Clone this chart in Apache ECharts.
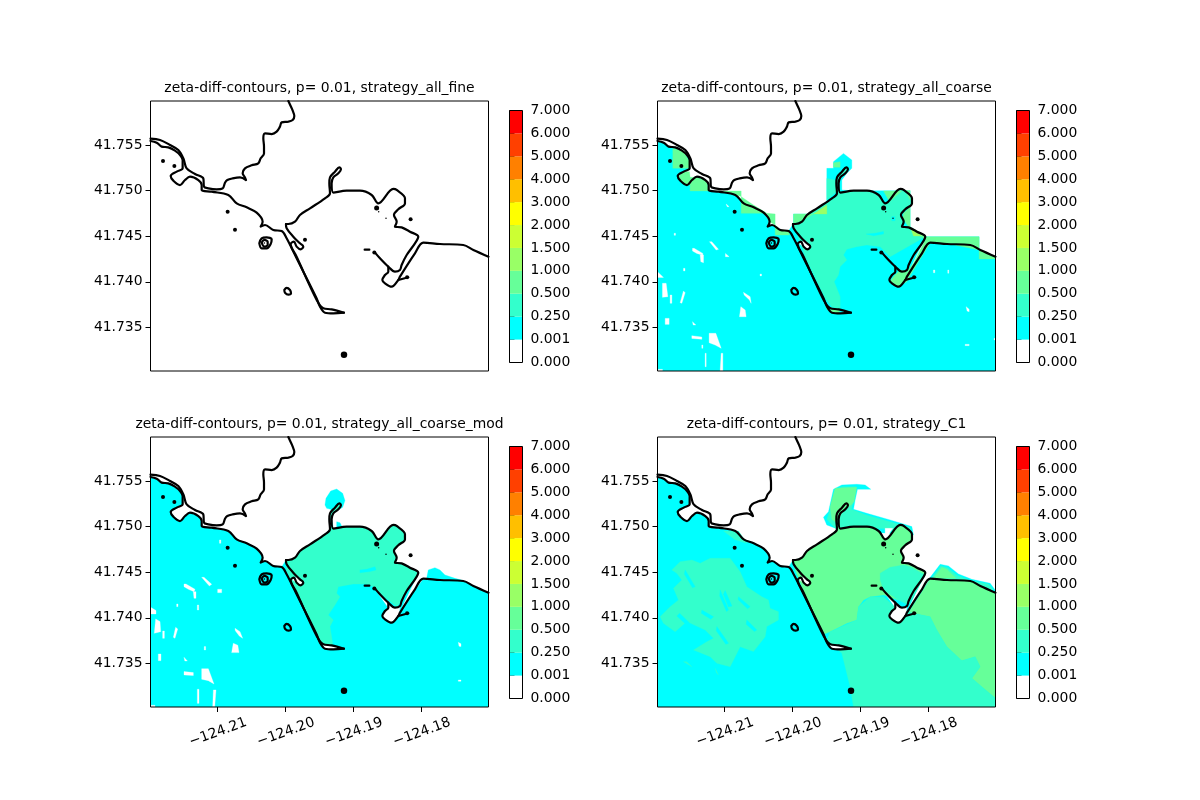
<!DOCTYPE html>
<html>
<head>
<meta charset="utf-8">
<style>html,body{margin:0;background:#fff}#main{width:1200px;height:800px}</style>
<script src="https://cdn.jsdelivr.net/npm/echarts@6/dist/echarts.min.js"></script>
</head>
<body>
<div id="main"></div>
<script>
// map points are [lon, lat] in 1e-5 degrees from (-124.22, 41.73)
var LON0 = -124.22, LAT0 = 41.73;
var lonMin = -124.21985, lonMax = -124.17012, latMin = 41.73023, latMax = 41.75982;
var lonTicks = [-124.21, -124.20, -124.19, -124.18];
var latTicks = [41.735, 41.740, 41.745, 41.750, 41.755];
var titles = ['strategy_all_fine', 'strategy_all_coarse', 'strategy_all_coarse_mod', 'strategy_C1'];
var levelLabels = ['0.000', '0.001', '0.250', '0.500', '1.000', '1.500', '2.000', '3.000', '4.000', '5.000', '6.000', '7.000'];
var bandColors = ['#ffffff', '#00ffff', '#33ffcc', '#66ff99', '#99ff66', '#ccff33', '#ffff00', '#ffbf00', '#ff8000', '#ff4000', '#ff0000'];

// shoreline
var coastNorth = [[2043,2982],[2077,2927],[2107,2876],[2131,2818],[2107,2774],[2043,2755],[1945,2748],[1920,2701],[1871,2646],[1798,2620],[1700,2628],[1675,2573],[1685,2481],[1685,2408],[1636,2354],[1601,2299],[1503,2277],[1405,2244],[1371,2189],[1405,2145],[1420,2116],[1332,2145],[1224,2134],[1145,2116],[1111,2087],[1077,2025],[988,2014],[866,2025],[802,2043],[792,2134],[670,2182],[547,2244],[498,2354],[424,2445],[302,2500],[155,2555],[15,2569]];
var coastWest = [[15,2544],[106,2525],[179,2482],[277,2474],[375,2438],[449,2390],[488,2335],[488,2244],[400,2208],[312,2160],[351,2109],[449,2061],[523,2116],[596,2153],[719,2116],[768,2061],[768,2007],[915,1988],[1160,1952],[1283,1860],[1430,1817],[1577,1758],[1665,1660],[1636,1605],[1700,1623],[1822,1568],[1945,1557]];
var coastStrip = [[2018,1477],[2165,1258],[2460,819],[2509,728],[2582,662],[2705,655],[2862,662]];
var hook = [[2008,1634],[2018,1587],[2116,1495],[2214,1422],[2263,1386],[2224,1356],[2165,1386],[2126,1440],[2077,1415],[2165,1276],[2460,801],[2558,710],[2680,699],[2862,662]];
var bayShore = [[2008,1634],[2043,1634],[2141,1660],[2214,1733],[2362,1806],[2582,1915],[2656,1970],[2646,2080],[2656,2145],[2729,2207],[2793,2255],[2817,2233],[2778,2189],[2705,2145],[2680,2080],[2705,1977],[2901,1999],[3097,1999],[3269,1952],[3367,1860],[3588,2018],[3637,2007],[3759,1915],[3759,1860],[3661,1795],[3597,1733],[3637,1660],[3612,1605],[3710,1597],[3833,1550],[3955,1495]];
var bayEast = [[3906,1422],[3784,1294],[3710,1185],[3685,1130],[3612,1112],[3514,1166],[3391,1258],[3318,1320]];
var coastEast = [[4988,1276],[4765,1349],[4617,1404],[4274,1415],[4029,1429]];
var lagoonSouth = [[3906,1312],[3685,1057],[3661,1020],[3563,947],[3465,984],[3426,1020],[3465,1075],[3514,1112],[3514,1166]];
var spitTail = [[3661,1020],[3808,1050]];
var ringOuter = [[1616,1422],[1650,1477],[1724,1488],[1798,1466],[1783,1415],[1724,1367],[1650,1367],[1616,1422]];
var ringInner = [[1650,1430],[1690,1459],[1739,1440],[1739,1404],[1690,1386],[1650,1430]];
var ringSouth = [[1984,911],[2018,933],[2067,911],[2082,874],[2043,860],[1994,881],[1984,911]];
var bayDash = [[3166,1353],[3235,1353]];
var rocksTiny = [[3480,1696],[3372,1769],[1690,1426]];
var rocksSmall = [[199,2324],[366,2270],[1150,1769],[1258,1572],[2288,1462],[3842,1685],[3308,1323],[3790,1050]];
var rocksMid = [[3342,1809]];
var rocksBig = [[2862,202]];

// areas shared by the filled panels
var oceanBase = [[15,23]].concat(coastWest, bayShore, [[3676,1057]], coastEast.slice().reverse(), [[4988,23]]);
var lagoonWhite = [[3318,1320],[3514,1166],[3612,1112],[3685,1130],[3676,1057],[3661,1020],[3563,947],[3465,984],[3426,1020],[3465,1075],[3514,1112],[3391,1240]];
var hookWhite = [[2092,1422],[2165,1451],[2263,1386],[2224,1356],[2165,1386]];
var tipWhite = [[2533,710],[2680,691],[2862,662],[2582,655]];

// strategy_all_coarse
var coarseNorthBlock = [[2016,1634],[2016,1744],[2506,1744],[2506,2244],[2604,2244],[2604,2317],[2751,2408],[2874,2335],[2874,2244],[2800,2189],[2727,2116],[2727,2007],[2849,1999],[3732,1999],[3732,1605],[3953,1495],[4747,1495],[4747,1350],[4026,1429]];
var coarseBay = bayShore.concat([[3438,1276],[3291,1386],[3095,1404],[2947,1386],[2800,1356],[2751,1294],[2800,1240],[2702,1166],[2678,1075],[2614,1002],[2644,947],[2702,838],[2702,699],[2580,728],[2482,819],[2187,1276],[2089,1477],[2016,1623]]);
var coarseBayNorth = [[2506,1897],[2506,2134],[2629,2116],[2678,2007]];
var coarseHole = [[3085,1524],[3217,1532],[3340,1553],[3340,1524],[3193,1506]];
var coarseRock = [[3462,1714],[3510,1714],[3510,1670],[3462,1670]];
var coarseGreen = [
    [[240,2463],[397,2438],[486,2317],[486,2244],[240,2244]],
    [[324,2153],[397,2208],[486,2208],[495,2145],[594,2145],[741,2109],[765,1996],[495,1996],[495,2061],[397,2080]],
    [[790,1996],[1246,1996],[1246,1751],[1623,1751],[1427,1842],[1231,1941],[937,1988]],
    [[1623,1751],[1746,1744],[1746,1623],[1665,1660]],
    [[1746,1623],[1746,1513],[1957,1513],[1945,1557],[1822,1568]],
    [[2016,1744],[2310,1744],[2162,1678],[2016,1634]],
    [[3634,1751],[3732,1824],[3732,1605],[3953,1495],[4747,1495],[4747,1350],[4321,1415],[4026,1429],[3708,1039],[3683,1002],[3560,947],[3428,1002],[3511,1075],[3585,1130],[3683,1112],[3781,1203],[3953,1459],[3830,1550],[3708,1605],[3624,1696]],
    [[4747,1355],[4988,1276],[4988,1250],[4747,1250]],
    [[3340,1996],[3610,1996],[3428,1879]],
    [[3658,2000],[3732,2000],[3732,1897]],
    [[2604,2306],[2702,2317],[2702,2255],[2604,2255]],
    [[2460,800],[2531,721],[2692,699],[2692,660],[2582,655],[2509,700]]
];
var coarseLime = [
    [[2310,1744],[2506,1744],[2506,1842]],
    [[3742,1586],[3904,1502],[3781,1502]]
];
var coarseSpecks = [[[780,1440],[814,1440],[912,1356],[878,1349]],[[530,1367],[554,1367],[682,1312],[682,1291],[594,1312],[530,1338]],[[643,1294],[692,1294],[692,1210],[652,1221]],[[1015,1312],[1069,1276],[1015,1276]],[[15,1112],[103,1049],[15,1049]],[[88,984],[142,984],[167,838],[88,830]],[[201,856],[226,856],[226,765],[201,765]],[[397,900],[422,881],[373,765],[348,772]],[[1280,885],[1378,838],[1393,765],[1368,801],[1290,856]],[[1241,728],[1305,692],[1319,618],[1221,618]],[[128,600],[186,600],[186,534],[128,534]],[[530,564],[579,527],[540,527]],[[520,410],[667,395],[667,370],[520,380]],[[775,436],[873,436],[952,272],[863,308],[775,333]],[[952,217],[976,217],[976,23],[937,23]],[[667,308],[682,308],[682,272],[667,272]],[[716,217],[731,217],[731,70],[716,70]],[[15,41],[88,41],[88,23],[15,23]],[[4556,728],[4600,700],[4600,673],[4570,680]],[[4541,315],[4600,315],[4600,301],[4541,301]],[[4968,381],[4988,381],[4988,363],[4968,363]],[[1025,1853],[1069,1824],[1040,1824]],[[260,1532],[280,1532],[280,1510],[260,1510]],[[397,1148],[420,1148],[420,1120],[397,1120]],[[1525,1086],[1545,1086],[1545,1065],[1525,1065]],[[4075,1130],[4095,1130],[4095,1100],[4075,1100]],[[4286,1130],[4300,1130],[4300,1095],[4286,1095]]];

// strategy_all_coarse_mod
var modBay = bayShore.concat([[3784,1294],[3710,1185],[3637,1123],[3514,1196],[3391,1269],[3293,1342],[3195,1371],[2999,1371],[2778,1342],[2754,1269],[2803,1232],[2729,1141],[2631,1032],[2705,977],[2656,904],[2695,721],[2680,685],[2533,721],[2460,823],[2165,1269],[2077,1415],[2018,1525]]);
var modHole = [[3097,1525],[3195,1532],[3318,1561],[3333,1525],[3244,1507],[3097,1495]];
var modCyan = [
    [[2582,2237],[2597,2310],[2666,2390],[2754,2412],[2842,2365],[2876,2285],[2842,2211],[2778,2182],[2695,2138],[2666,2190],[2607,2200]],
    [[2754,2054],[2803,2043],[2837,1992],[2754,1992]],
    [[4078,1433],[4102,1525],[4200,1550],[4274,1525],[4348,1470],[4495,1433],[4617,1408],[4274,1415]]
];
var modSpecks = [[[768,1444],[802,1444],[915,1368],[881,1349]],[[508,1371],[537,1371],[670,1313],[655,1287],[572,1313],[508,1342]],[[645,1287],[684,1287],[684,1214],[655,1214]],[[1003,1313],[1062,1313],[1062,1276],[1003,1276]],[[17,1116],[96,1080],[96,1043],[17,1043]],[[91,988],[155,959],[165,849],[71,831]],[[194,856],[219,856],[219,776],[194,776]],[[385,896],[415,878],[375,776],[351,787]],[[1258,885],[1332,849],[1371,776],[1322,800],[1263,860]],[[1233,721],[1300,700],[1317,619],[1209,619]],[[130,604],[169,604],[169,531],[130,531]],[[508,568],[557,527],[520,527]],[[508,411],[645,400],[645,367],[508,375]],[[768,443],[866,443],[949,275],[866,312],[768,327]],[[940,210],[979,210],[960,27],[930,27]],[[704,217],[729,217],[729,63],[704,63]],[[17,42],[81,42],[81,23],[17,23]],[[4544,732],[4583,715],[4583,685],[4554,690]],[[4544,319],[4583,319],[4583,305],[4544,305]],[[1030,1854],[1050,1854],[1050,1817],[1030,1817]],[[400,1152],[420,1152],[420,1123],[400,1123]],[[704,1141],[724,1141],[724,1086],[704,1086]],[[806,685],[826,685],[826,648],[806,648]]];

// strategy_C1
var c1CyanNorth = [
    [[2457,2102],[2531,2164],[2604,2409],[2727,2456],[2947,2464],[3070,2456],[3153,2409],[2957,2409],[2923,2292],[2899,2190],[3095,2146],[3438,2073],[3757,2000],[3781,1908],[2702,1963],[2506,2018]],
    [[4017,1433],[4174,1587],[4296,1569],[4443,1481],[4640,1422],[4909,1379],[4983,1306],[4983,1262]]
];
var c1TealNorth = [
    [[2506,2080],[2555,2182],[2614,2394],[2727,2438],[2938,2438],[2899,2285],[2869,2190],[3095,2124],[3438,2054],[3732,1989],[3757,1908],[3340,1978],[2727,1981],[2629,1981]],
    [[4051,1441],[4183,1569],[4281,1550],[4428,1463],[4615,1408],[4885,1371],[4958,1306]]
];
var c1GreenNorth = [
    [[2555,2219],[2629,2420],[2947,2431],[2908,2274],[2864,2237],[2751,2182],[2678,2080],[2629,2054],[2580,2080]],
    [[4075,1433],[4198,1554],[4272,1532],[4409,1433]]
];
var c1NorthGap = [[3364,1981],[3477,1981],[3364,1861]];
var c1Bay = bayShore.concat([[3560,1196],[3340,1251],[3144,1232],[3046,1196],[2972,1123],[2947,977],[2800,940],[2555,849],[2467,823],[2187,1251],[2089,1433],[2016,1580]]);
var c1BayTeal = [[3291,1488],[3438,1554],[3634,1580],[3732,1561],[3953,1470],[3781,1232],[3708,1141],[3560,1196],[3340,1306],[3291,1415]];
var c1SouthTeal = [[2555,849],[2947,977],[2972,1123],[3144,1232],[3340,1232],[3560,1086],[3708,1068],[3830,1043],[4026,1013],[4124,867],[4272,684],[4492,531],[4689,575],[4762,465],[4640,338],[4811,228],[4983,118],[4983,23],[2899,23],[2849,246],[2727,611],[2506,758]];
var c1EastGreen = coastEast.concat([[3708,1060],[3830,1043],[4026,1013],[4124,867],[4272,684],[4492,531],[4689,575],[4762,465],[4640,338],[4811,228],[4988,118]]);
var c1WestTeal = [
    [[226,1525],[348,1616],[520,1634],[643,1598],[790,1653],[1084,1653],[1231,1506],[1329,1342],[1550,1232],[1648,1196],[1672,1105],[1795,1068],[1795,977],[1623,904],[1599,794],[1427,630],[1231,684],[1084,465],[888,502],[790,575],[545,648],[741,739],[839,776],[716,867],[446,959],[275,849],[103,940],[54,1013],[201,1123],[324,1196],[250,1324],[373,1415],[299,1488]],
    [[397,520],[520,465],[446,520]],
    [[863,447],[912,374],[880,400]],
    [[986,1952],[1207,1952],[1329,1817],[1150,1860]]
];
var c1WestGaps = [
    [[1010,1300],[1110,1130],[1060,1120],[985,1260]],
    [[340,1050],[480,950],[430,930],[300,1020]],
    [[667,1086],[839,1013],[800,985],[660,1050]],
    [[937,1306],[1060,1086],[1030,1070],[930,1240]],
    [[1207,1232],[1378,1123],[1340,1100],[1200,1200]],
    [[422,1525],[569,1342],[530,1330],[410,1480]],
    [[888,904],[1060,721],[1020,710],[880,860]],
    [[1329,977],[1476,867],[1440,850],[1320,930]]
];

var CYAN = bandColors[1], TEAL = bandColors[2], GREEN = bandColors[3], LIME = bandColors[4], WHITE = bandColors[0];
var panelLayers = [
    [],
    [
        [CYAN, [oceanBase, coarseNorthBlock]], [TEAL, [coarseBay, coarseBayNorth]], [CYAN, [coarseHole, coarseRock]],
        [GREEN, coarseGreen], [LIME, coarseLime], [WHITE, coarseSpecks.concat([hookWhite])]
    ],
    [
        [CYAN, [oceanBase].concat(modCyan)], [TEAL, [modBay]], [CYAN, [modHole]],
        [WHITE, modSpecks.concat([lagoonWhite, hookWhite, tipWhite])]
    ],
    [
        [CYAN, [oceanBase].concat(c1CyanNorth)], [TEAL, c1TealNorth.concat(c1WestTeal)], [CYAN, c1WestGaps],
        [GREEN, c1GreenNorth.concat([c1Bay, c1EastGreen])], [TEAL, [c1BayTeal, c1SouthTeal]],
        [WHITE, [lagoonWhite, hookWhite, tipWhite, c1NorthGap]]
    ]
];
var shoreLines = [coastNorth, coastWest.concat(coastStrip), hook, bayShore.concat(bayEast), coastEast.concat(lagoonSouth), spitTail, ringOuter, ringInner, ringSouth, bayDash];

var colLeft = [150.5, 657.5], rowTop = [101, 437], barLeft = [509.5, 1016.5];
var FONT = '"DejaVu Sans"';

function toLonLat(p) {
    return [LON0 + p[0] / 1e5, LAT0 + p[1] / 1e5];
}

function polygonSeries(color, polys, index) {
    return {
        type: 'custom', xAxisIndex: index, yAxisIndex: index, clip: true, silent: true, z: 2,
        data: polys.map(function (p, i) { return [i]; }),
        renderItem: function (params, api) {
            return {
                type: 'polygon',
                shape: { points: polys[params.dataIndex].map(function (p) { return api.coord(toLonLat(p)); }) },
                style: { fill: color, stroke: color, lineWidth: 0.3 }
            };
        }
    };
}

function rockSeries(points, size, index) {
    return {
        type: 'scatter', xAxisIndex: index, yAxisIndex: index, symbolSize: size, silent: true, z: 6,
        itemStyle: { color: '#000', opacity: 1 }, data: points.map(toLonLat)
    };
}

var grids = [], xAxes = [], yAxes = [], series = [], chartTitles = [];

titles.forEach(function (name, i) {
    var col = i % 2, row = i < 2 ? 0 : 1, showX = row === 1;
    grids.push({ left: colLeft[col], top: rowTop[row], width: 338, height: 270, show: true, z: 10, backgroundColor: 'transparent', borderColor: '#000', borderWidth: 1 });
    xAxes.push({
        gridIndex: i, type: 'value', min: lonMin, max: lonMax, splitLine: { show: false },
        axisLine: { show: false },
        axisTick: { show: showX, length: 5, customValues: lonTicks, lineStyle: { color: '#000', width: 1 } },
        axisLabel: {
            show: showX, customValues: lonTicks, rotate: 20, align: 'center', verticalAlign: 'top', margin: 18, padding: [0, 4, 0, 0],
            color: '#000', fontFamily: FONT, fontSize: 13.9,
            formatter: function (v) { return '\u2212' + Math.abs(v).toFixed(2); }
        }
    });
    yAxes.push({
        gridIndex: i, type: 'value', min: latMin, max: latMax, splitLine: { show: false },
        axisLine: { show: false },
        axisTick: { length: 5, customValues: latTicks, lineStyle: { color: '#000', width: 1 } },
        axisLabel: {
            customValues: latTicks, margin: 8, padding: [4, 0, 0, 0], color: '#000', fontFamily: FONT, fontSize: 13.9,
            formatter: function (v) { return v.toFixed(3); }
        }
    });
    chartTitles.push({
        text: 'zeta-diff-contours, p= 0.01, ' + name, left: colLeft[col] + 164, top: rowTop[row] - 25, textAlign: 'center',
        textStyle: { color: '#000', fontFamily: FONT, fontSize: 13.9, fontWeight: 'normal' }
    });
    panelLayers[i].forEach(function (layer) {
        series.push(polygonSeries(layer[0], layer[1], i));
    });
    shoreLines.forEach(function (line) {
        series.push({
            type: 'line', xAxisIndex: i, yAxisIndex: i, showSymbol: false, symbol: 'none', silent: true, z: 5, smooth: 0.35,
            lineStyle: { color: '#000', width: 2.2, cap: 'round', join: 'round' }, data: line.map(toLonLat)
        });
    });
    series.push(rockSeries(rocksTiny, 1.5, i), rockSeries(rocksSmall, 4, i), rockSeries(rocksMid, 5, i), rockSeries(rocksBig, 6.5, i));
});

// colorbars: equal-height bands, one tick at each level
titles.forEach(function (name, i) {
    var col = i % 2, row = i < 2 ? 0 : 1, index = i + 4;
    grids.push({ left: barLeft[col], top: rowTop[row] + 9.5, width: 13, height: 252, show: true, z: 10, backgroundColor: 'transparent', borderColor: '#000', borderWidth: 1 });
    xAxes.push({ gridIndex: index, type: 'value', min: 0, max: 1, show: false });
    yAxes.push({
        gridIndex: index, type: 'value', position: 'right', min: 0, max: levelLabels.length - 1, interval: 1,
        splitLine: { show: false }, axisLine: { show: false },
        axisTick: { length: 5, lineStyle: { color: '#000', width: 1 } },
        axisLabel: {
            margin: 8, padding: [4, 0, 0, 0], color: '#000', fontFamily: FONT, fontSize: 13.9, showMinLabel: true, showMaxLabel: true,
            formatter: function (v) { return levelLabels[v]; }
        }
    });
    series.push({
        type: 'custom', xAxisIndex: index, yAxisIndex: index, silent: true,
        data: bandColors.map(function (c, k) { return [k]; }),
        renderItem: function (params, api) {
            var k = params.dataIndex, a = api.coord([0, k + 1]), b = api.coord([1, k]);
            return { type: 'rect', shape: { x: a[0], y: a[1], width: b[0] - a[0], height: b[1] - a[1] }, style: { fill: bandColors[k] } };
        }
    });
});

var chart = echarts.init(document.getElementById('main'), null, { renderer: 'canvas' });
chart.setOption({
    animation: false, backgroundColor: '#fff', title: chartTitles,
    grid: grids, xAxis: xAxes, yAxis: yAxes, series: series
});
</script>
</body>
</html>
